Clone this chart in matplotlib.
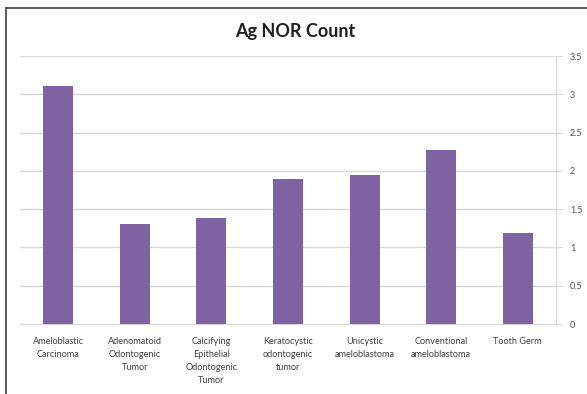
import matplotlib.pyplot as plt
from matplotlib.lines import Line2D

# Ag NOR count per lesion type
categories = [
    "Ameloblastic\nCarcinoma",
    "Adenomatoid\nOdontogenic\nTumor",
    "Calcifying\nEpithelial\nOdontogenic\nTumor",
    "Keratocystic\nodontogenic\ntumor",
    "Unicystic\nameloblastoma",
    "Conventional\nameloblastoma",
    "Tooth Germ",
]
counts = [3.11, 1.31, 1.38, 1.89, 1.94, 2.27, 1.19]
y_ticks = [0, 0.5, 1, 1.5, 2, 2.5, 3, 3.5]
y_labels = ["0", "0.5", "1", "1.5", "2", "2.5", "3", "3.5"]

plt.rcParams["font.family"] = ["Lato", "DejaVu Sans"]

W, H = 587, 394
fig = plt.figure(figsize=(W / 100, H / 100), dpi=100)
ax = fig.add_axes([20 / W, 1 - 324 / H, 536 / W, 268 / H])

x = range(len(categories))
ax.bar(x, counts, width=0.39, color="#7F62A1", zorder=3)

ax.set_xlim(-0.5, len(categories) - 0.5)
ax.set_ylim(0, 3.5)
ax.set_yticks(y_ticks)
ax.set_yticklabels(y_labels)
ax.yaxis.tick_right()
ax.grid(axis="y", color="#D9D9D9", linewidth=1, zorder=0)

ax.set_xticks(list(x))
ax.set_xticklabels(categories, fontsize=6.6, color="#404040", linespacing=1.6,
                   va="top")
ax.tick_params(axis="x", length=0, pad=9)
ax.tick_params(axis="y", length=4, color="#D9D9D9", labelsize=6.5,
               labelcolor="#505050", pad=6)
for lbl in ax.get_yticklabels():
    lbl.set_horizontalalignment("left")

for side in ["top", "left"]:
    ax.spines[side].set_visible(False)
ax.spines["right"].set_color("#D9D9D9")
ax.spines["bottom"].set_color("#D9D9D9")

fig.text(295 / W, 1 - 32 / H, "Ag NOR Count", ha="center", va="center",
         fontsize=13, fontweight="bold", color="#1F1F1F")

# frame lines around the chart area
fig.add_artist(Line2D([6 / W, 6 / W], [0, 1 - 8 / H], color="#404040", lw=1.2))
fig.add_artist(Line2D([6 / W, 1], [1 - 8 / H, 1 - 8 / H], color="#404040", lw=1.2))

fig.savefig("out.png", dpi=100)
